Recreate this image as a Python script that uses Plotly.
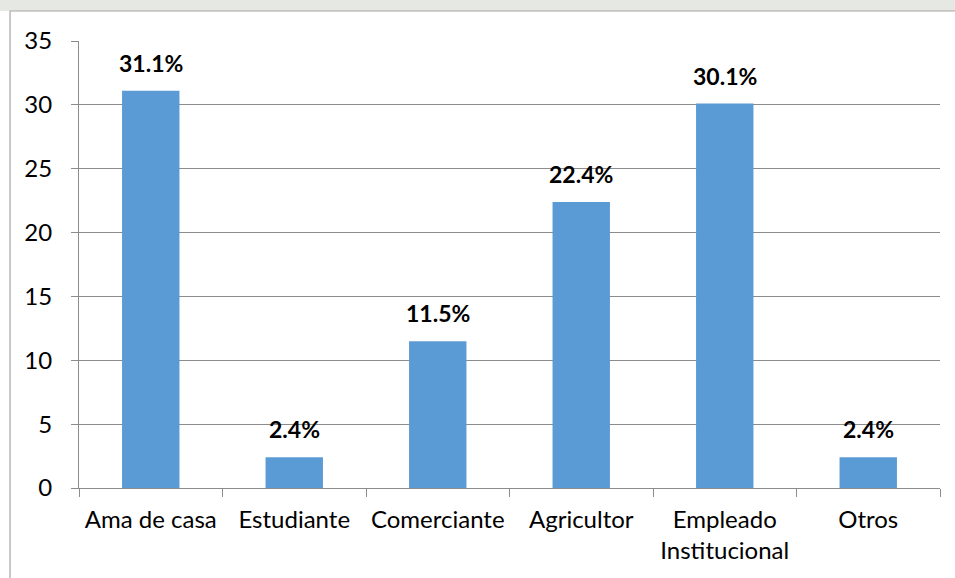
import plotly.graph_objects as go

# Occupation categories and their share (%)
categories = ["Ama de casa", "Estudiante", "Comerciante", "Agricultor",
              "Empleado<br>Institucional", "Otros"]
values = [31.1, 2.4, 11.5, 22.4, 30.1, 2.4]
y_ticks = [0, 5, 10, 15, 20, 25, 30, 35]

bar_color = "#5B9BD5"
grid_color = "#8c8c8c"
font_family = "Lato, 'Open Sans', sans-serif"

fig = go.Figure(
    go.Bar(
        x=categories,
        y=values,
        marker=dict(color=bar_color, line=dict(width=0)),
        hoverinfo="skip",
    )
)

# Value labels above each bar
for cat, val in zip(categories, values):
    fig.add_annotation(
        x=cat, y=val, text=f"<b>{val:.1f}%</b>",
        showarrow=False, yanchor="bottom", yshift=12,
        font=dict(size=23, color="black", family=font_family),
    )

# Outer frame (left and top edges) plus faint band at the top
fig.add_shape(type="rect", xref="paper", yref="paper",
              x0=-0.0918, x1=1.0174, y0=1.0671, y1=1.0918,
              fillcolor="#e6e8e4", line=dict(width=0), layer="below")
fig.add_shape(type="path", xref="paper", yref="paper",
              path="M -0.0801,-0.2013 L -0.0801,1.0671 L 1.0174,1.0671",
              line=dict(color="#a6a6a6", width=1.2))

fig.update_layout(
    width=955, height=578,
    margin=dict(l=79, r=15, t=41, b=90),
    paper_bgcolor="white", plot_bgcolor="white",
    bargap=0.6,
    showlegend=False,
    font=dict(family=font_family, color="black"),
    xaxis=dict(
        type="category",
        showline=True, linecolor=grid_color, linewidth=1.2,
        ticks="outside", tickson="boundaries", ticklen=8,
        tickcolor=grid_color, tickwidth=1.2,
        tickfont=dict(size=24, color="black"),
        ticklabelstandoff=10,
        showgrid=False,
    ),
    yaxis=dict(
        range=[0, 35], tickvals=y_ticks,
        showline=True, linecolor=grid_color, linewidth=1.2,
        ticks="outside", ticklen=7, tickcolor=grid_color, tickwidth=1.2,
        showgrid=True, gridcolor=grid_color, gridwidth=1,
        tickfont=dict(size=24, color="black"),
        ticklabelstandoff=14,
        zeroline=False,
    ),
)

fig.write_html("out.html")
